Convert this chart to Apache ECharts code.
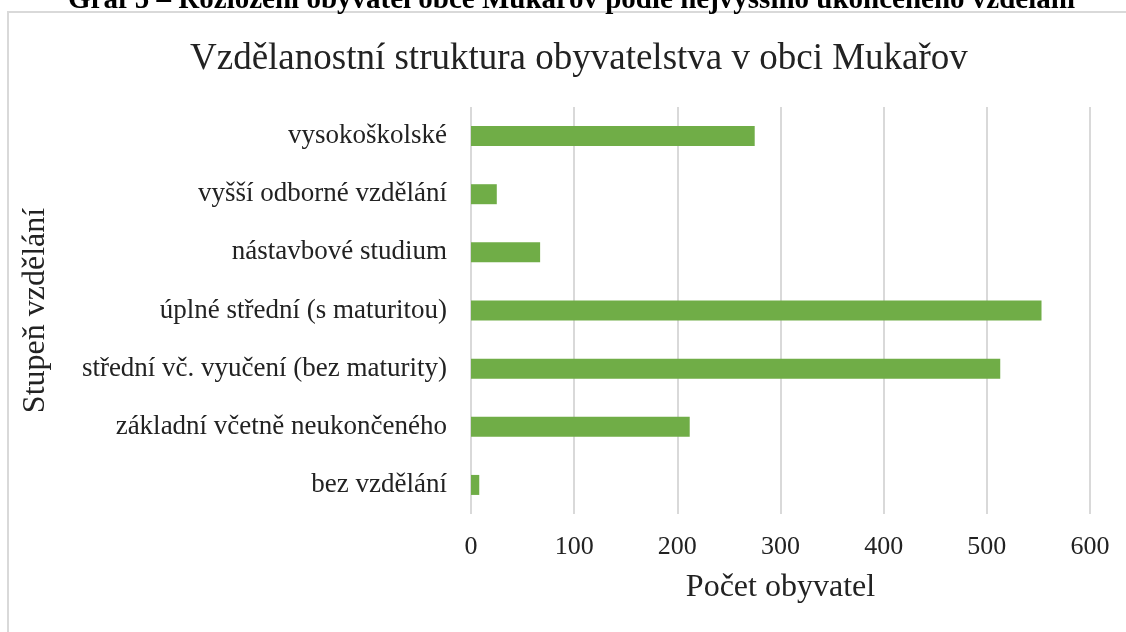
<!DOCTYPE html>
<html>
<head>
<meta charset="utf-8">
<script src="https://cdn.jsdelivr.net/npm/echarts@6/dist/echarts.min.js"></script>
<style>
  html, body { margin: 0; padding: 0; background: #fff; }
  #chart-container { width: 1126px; height: 632px; }
</style>
</head>
<body>
<div id="chart-container"></div>
<script>
// data
var categories = [
  'bez vzdělání',
  'základní včetně neukončeného',
  'střední vč. vyučení (bez maturity)',
  'úplné střední (s maturitou)',
  'nástavbové studium',
  'vyšší odborné vzdělání',
  'vysokoškolské'
];
var values = [8, 212, 513, 553, 67, 25, 275];
var xTicks = { min: 0, max: 600, interval: 100 };

var FONT = '"Liberation Serif", "Times New Roman", serif';

var dom = document.getElementById('chart-container');
var myChart = echarts.init(dom, null, { renderer: 'canvas' });

var option = {
  backgroundColor: '#fff',
  animation: false,
  title: {
    text: 'Vzdělanostní struktura obyvatelstva v obci Mukařov',
    left: 185,
    top: 36,
    textStyle: { fontFamily: FONT, fontSize: 37, fontWeight: 'normal', color: '#222' }
  },
  graphic: [
    {
      type: 'rect',
      shape: { x: 8, y: 12, width: 1130, height: 640 },
      style: { fill: null, stroke: '#d9d9d9', lineWidth: 2 },
      silent: true
    },
    {
      type: 'text',
      left: 68,
      top: -14,
      style: {
        text: 'Graf 5 – Rozložení obyvatel obce Mukařov podle nejvyššího ukončeného vzdělání',
        font: 'bold 29px ' + FONT,
        fill: '#000'
      }
    }
  ],
  grid: { left: 471, right: 36, top: 107, bottom: 118, containLabel: false },
  xAxis: {
    type: 'value',
    min: xTicks.min,
    max: xTicks.max,
    interval: xTicks.interval,
    name: 'Počet obyvatel',
    nameLocation: 'middle',
    nameGap: 58,
    nameTextStyle: { fontFamily: FONT, fontSize: 32, color: '#222' },
    axisLine: { show: false },
    axisTick: { show: false },
    axisLabel: { fontFamily: FONT, fontSize: 26, color: '#222', margin: 20 },
    splitLine: { show: true, lineStyle: { color: '#d9d9d9', width: 2 } }
  },
  yAxis: {
    type: 'category',
    data: categories,
    name: 'Stupeň vzdělání',
    nameLocation: 'middle',
    nameGap: 419,
    nameRotate: 90,
    nameTextStyle: { fontFamily: FONT, fontSize: 32, color: '#222' },
    axisLine: { show: false },
    axisTick: { show: false },
    axisLabel: { fontFamily: FONT, fontSize: 27, color: '#222', margin: 24 },
    splitLine: { show: false }
  },
  series: [
    {
      type: 'bar',
      data: values,
      barWidth: 20,
      itemStyle: { color: '#70ad47' }
    }
  ]
};

myChart.setOption(option);
window.addEventListener('resize', myChart.resize);
</script>
</body>
</html>
